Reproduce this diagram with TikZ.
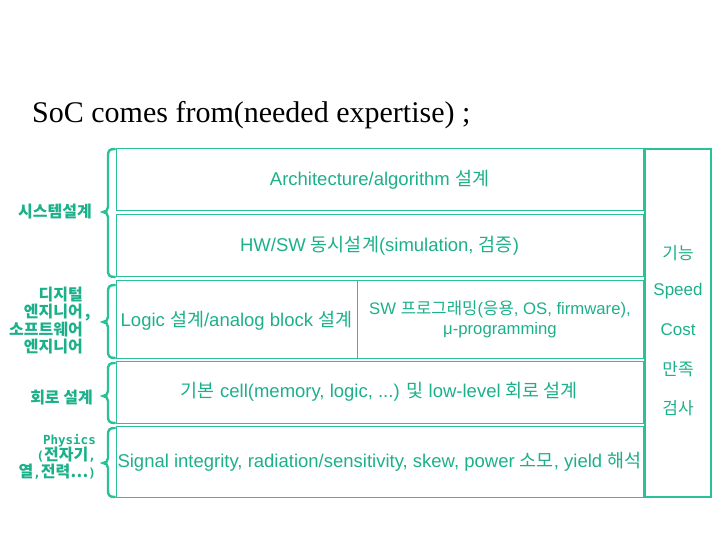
\documentclass[tikz,border=0pt]{standalone}
\usepackage{fontspec}
\setmainfont{Liberation Sans}
\newfontfamily\kr{Noto Sans CJK KR}
\newfontfamily\ttl{Liberation Serif}
\newfontfamily\mon{DejaVu Sans Mono}
\definecolor{sg}{RGB}{28,176,138}
\definecolor{sl}{RGB}{42,192,152}
\newcommand\curlyb[3]{% top, bottom, tip
  \draw[bracestyle] (115,#1) .. controls (109,#1) and (108,#1+2) .. (108,#1+7)
    -- (108,#3-5) .. controls (108,#3-2) and (106,#3) .. (103,#3)
    .. controls (106,#3) and (108,#3+2) .. (108,#3+5)
    -- (108,#2-7) .. controls (108,#2-2) and (109,#2) .. (115,#2);}
\newcommand\mfn[1]{{\mon\bfseries\fontsize{12.5}{16.5}\selectfont #1}}
\begin{document}
\begin{tikzpicture}[x=1pt,y=-1pt,
  rowbox/.style={draw=sl, line width=1pt, inner sep=0pt, text=sg,
    font=\fontsize{18.5}{22}\selectfont},
  bracestyle/.style={draw=sl, line width=2.4pt, line cap=round},
  lab/.style={text=sg, inner sep=0pt, anchor=east, font=\kr\bfseries\fontsize{16}{16.5}\selectfont},
  side/.style={text=sg, inner sep=0pt, font=\fontsize{17}{20}\selectfont}]
\useasboundingbox (0,0) rectangle (720,540);

\node[anchor=base west, inner sep=0pt, font=\ttl\fontsize{30}{32}\selectfont] (title) at (32,123) {SoC comes from(needed expertise) ;};

\node[rowbox, minimum width=527pt, minimum height=62pt] (r1) at (379.5,180) {Architecture/algorithm {\kr 설계}};
\node[rowbox, minimum width=527pt, minimum height=62pt] (r2) at (379.5,245.5) {HW/SW {\kr 동시설계}(simulation, {\kr 검증})};
\node[rowbox, minimum width=241pt, minimum height=78pt, text depth=-4pt] (r3a) at (236.5,319) {Logic {\kr 설계}/analog block {\kr 설계}};
\node[rowbox, minimum width=286pt, minimum height=78pt, align=center, font=\fontsize{16.7}{20}\selectfont] (r3b) at (500,319) {SW {\kr 프로그래밍}({\kr 응용}, OS, firmware),\\ μ-programming};
\node[rowbox, minimum width=527pt, minimum height=62pt] (r4) at (379.5,392) {{\kr 기본} cell(memory, logic, ...) {\kr 및} low-level {\kr 회로 설계}};
\node[rowbox, minimum width=527pt, minimum height=71pt] (r5) at (379.5,461.5) {Signal integrity, radiation/sensitivity, skew, power {\kr 소모}, yield {\kr 해석}};

\node[draw=sl, line width=2.5pt, minimum width=66pt, minimum height=348pt] (rb) at (678,323) {};
\node[side] (s1) at (678,253) {\kr 기능};
\node[side] (s2) at (678,291) {Speed};
\node[side] (s3) at (678,330) {Cost};
\node[side] (s4) at (678,369) {\kr 만족};
\node[side] (s5) at (678,408) {\kr 검사};

\curlyb{149}{277}{212}
\curlyb{285}{358}{322}
\curlyb{363}{423}{396}
\curlyb{428}{497}{463}

\node[lab] (l1) at (92,212) {시스템설계};
\node[lab, align=right] (l2) at (83,320.5) {디지털\\엔지니어\rlap{\hspace{2pt},}\\소프트웨어\\엔지니어};
\node[lab] (l3) at (93,398) {회로 설계};
\node[lab, align=right] (l4) at (96,456.5) {\mfn{Physics}\\\mfn{(}전자기\mfn{,}\\열\mfn{,}전력…\mfn{)}};
\end{tikzpicture}
\end{document}
